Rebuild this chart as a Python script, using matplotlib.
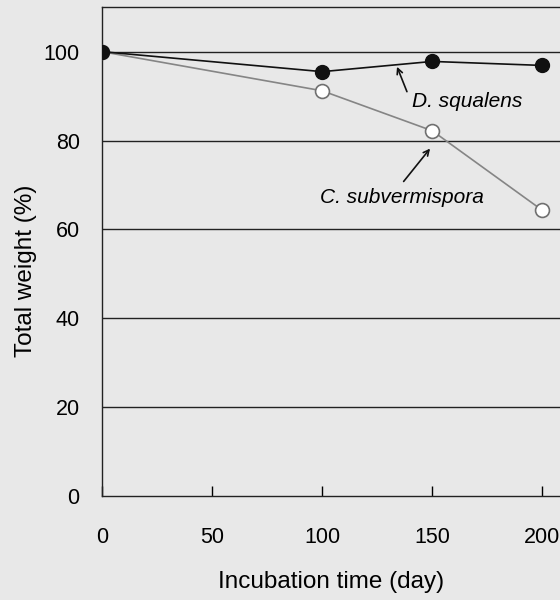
import matplotlib
matplotlib.use("Agg")
import matplotlib.pyplot as plt

days = [0, 100, 150, 200]
d_squalens = [100, 95.5, 97.8, 96.9]
c_subvermispora = [100, 91.2, 82.2, 64.3]
xticks = [0, 50, 100, 150, 200]
yticks = [0, 20, 40, 60, 80, 100]

plt.rcParams['font.family'] = ['Liberation Sans', 'DejaVu Sans']
bg = '#e8e8e8'
fig = plt.figure(figsize=(5.6, 6.0), dpi=100, facecolor=bg)
ax = fig.add_axes([0.182, 0.173, 0.818, 0.815], facecolor=bg)

for y in yticks[1:]:
    ax.axhline(y, color='#222222', lw=1.0, zorder=1)

ax.plot(days, c_subvermispora, color='#858585', lw=1.2, marker='o', ms=10,
        mfc='white', mec='#707070', mew=1.2, zorder=3)
ax.plot(days, d_squalens, color='#111111', lw=1.2, marker='o', ms=10,
        mfc='#111111', mec='#111111', zorder=4)

ax.set_xlim(0, 208)
ax.set_ylim(0, 110)
ax.set_xticks(xticks)
ax.set_yticks(yticks)
ax.tick_params(axis='x', direction='in', length=7, width=1, labelsize=15.5, pad=22)
ax.tick_params(axis='y', length=0, labelsize=15.5, pad=16)
for s in ['left', 'bottom', 'top']:
    ax.spines[s].set_color('#222222')
    ax.spines[s].set_linewidth(1.0)
ax.spines['right'].set_visible(False)

ax.set_xlabel('Incubation time (day)', fontsize=17.5)
ax.xaxis.set_label_coords(0.5, -0.152)
ax.set_ylabel('Total weight (%)', fontsize=17.5)
ax.yaxis.set_label_coords(-0.142, 0.46)

ax.text(166, 88.7, 'D. squalens', fontsize=15, style='italic',
        ha='center', va='center')
ax.annotate('', xy=(134, 96.6), xytext=(138.5, 91.0),
            arrowprops=dict(arrowstyle='->', color='#111111', lw=1.2,
                            shrinkA=0, shrinkB=0))
ax.annotate('', xy=(149, 78.2), xytext=(137, 70.8),
            arrowprops=dict(arrowstyle='->', color='#111111', lw=1.2,
                            shrinkA=0, shrinkB=0))
ax.text(136.4, 67.3, 'C. subvermispora', fontsize=15, style='italic',
        ha='center', va='center')

fig.savefig('out.png', dpi=100, facecolor=bg)
